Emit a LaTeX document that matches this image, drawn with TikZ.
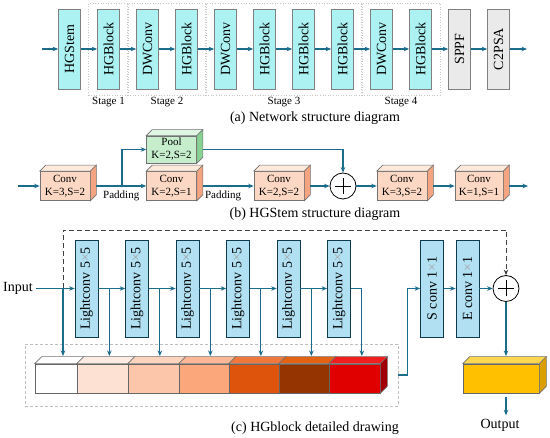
\documentclass[tikz,border=0pt]{standalone}
\usepackage{fontspec}
\setmainfont{Liberation Serif}
\usetikzlibrary{arrows.meta,backgrounds,fit}

\definecolor{linkblue}{RGB}{28,108,140}
\definecolor{stagecyan}{RGB}{172,242,242}
\definecolor{headgray}{RGB}{234,234,234}
\definecolor{lightblue}{RGB}{176,224,242}
\definecolor{convfront}{RGB}{252,216,196}
\definecolor{convtop}{RGB}{253,232,220}
\definecolor{convside}{RGB}{244,164,128}
\definecolor{poolfront}{RGB}{198,238,204}
\definecolor{pooltop}{RGB}{222,246,226}
\definecolor{poolside}{RGB}{136,210,148}
\definecolor{outfront}{RGB}{255,192,0}
\definecolor{outtop}{RGB}{255,214,80}
\definecolor{outside}{RGB}{218,158,0}
\definecolor{segf1}{RGB}{255,255,255}
\definecolor{segt1}{RGB}{255,255,255}
\definecolor{segf2}{RGB}{253,226,212}
\definecolor{segt2}{RGB}{254,236,226}
\definecolor{segf3}{RGB}{252,198,170}
\definecolor{segt3}{RGB}{252,212,190}
\definecolor{segf4}{RGB}{252,166,124}
\definecolor{segt4}{RGB}{252,184,150}
\definecolor{segf5}{RGB}{222,84,12}
\definecolor{segt5}{RGB}{240,120,60}
\definecolor{segf6}{RGB}{150,52,0}
\definecolor{segt6}{RGB}{228,98,20}
\definecolor{segf7}{RGB}{224,0,0}
\definecolor{segt7}{RGB}{240,30,30}
\definecolor{segs7}{RGB}{160,0,0}

\begin{document}
\begin{tikzpicture}[x=1pt,y=-1pt,font=\fontsize{14}{17}\selectfont,>={Stealth[length=5.5pt,width=4.5pt]},
  link/.style={draw=linkblue,line width=1.1pt},
  small/.style={font=\fontsize{11}{13}\selectfont},
  vbox/.style={rectangle,draw=black!50,line width=0.7pt,minimum width=22pt,minimum height=80pt,inner sep=0pt},
  stembox/.style={vbox,fill=stagecyan},
  headbox/.style={vbox,fill=headgray},
  lcbox/.style={vbox,fill=lightblue,draw=black!45!linkblue,minimum width=23pt,minimum height=97pt},
  stageframe/.style={draw=black!22,dotted,line width=0.6pt,inner xsep=8.5pt,inner ysep=5.5pt},
  cuboid/.style={rectangle,draw=black!55,line width=0.6pt,fill=convfront,minimum width=50pt,minimum height=29pt,inner sep=0pt,align=center,small},
  seg/.style={rectangle,draw=black!60,line width=0.6pt,minimum height=29pt,inner sep=0pt},
  face/.style={draw=black!55,line width=0.6pt},
  addnode/.style={circle,draw=black,line width=0.8pt,fill=white,minimum size=26pt,inner sep=0pt,
    path picture={\draw[line width=0.8pt] ([xshift=-8pt]path picture bounding box.center) -- ([xshift=8pt]path picture bounding box.center)
      ([yshift=-8pt]path picture bounding box.center) -- ([yshift=8pt]path picture bounding box.center);}}]
\useasboundingbox (0,0) rectangle (550,438);

% (a) network
\foreach \t/\s [count=\i] in {HGStem/stembox,HGBlock/stembox,DWConv/stembox,HGBlock/stembox,DWConv/stembox,HGBlock/stembox,HGBlock/stembox,HGBlock/stembox,DWConv/stembox,HGBlock/stembox,SPPF/headbox,C2PSA/headbox}
  \node[\s] (a\i) at ({30.5+39*\i},49) {\rotatebox{90}{\t}};
\begin{scope}[on background layer]
\fill[white] (0,0) rectangle (550,438);
\node[stageframe,fit=(a2),label={[small,inner sep=2pt]below:Stage 1}] (st1) {};
\node[stageframe,fit=(a3)(a4),label={[small,inner sep=2pt]below:Stage 2}] (st2) {};
\node[stageframe,fit=(a5)(a8),label={[small,inner sep=2pt]below:Stage 3}] (st3) {};
\node[stageframe,fit=(a9)(a10),label={[small,inner sep=2pt]below:Stage 4}] (st4) {};
\end{scope}
\coordinate (ain) at (42,49);
\coordinate (aout) at (527,49);
\draw[link,->] (ain) -- (a1);
\foreach \i in {1,...,11}{\pgfmathtruncatemacro{\j}{\i+1}\draw[link,->] (a\i) -- (a\j);}
\draw[link,->] (a12) -- (aout);
\node (capa) at (315,118) {(a) Network structure diagram};

% (b) stem
\node[cuboid] (c1) at (65,186) {Conv\\K=3,S=2};
\node[cuboid,fill=poolfront,minimum height=27pt] (pl) at (171.5,149.5) {Pool\\K=2,S=2};
\node[cuboid] (c2) at (171.5,186) {Conv\\K=2,S=1};
\node[cuboid] (c3) at (279,186) {Conv\\K=2,S=2};
\node[addnode] (add1) at (343,186) {};
\node[cuboid] (c4) at (402,186) {Conv\\K=3,S=2};
\node[cuboid,minimum width=48pt] (c5) at (479,186) {Conv\\K=1,S=1};
\foreach \n/\tc/\sc in {c1/convtop/convside,pl/pooltop/poolside,c2/convtop/convside,c3/convtop/convside,c4/convtop/convside,c5/convtop/convside}{
  \filldraw[face,fill=\tc] (\n.north west) -- ++(6,-6) -- ([shift={(6,-6)}]\n.north east) -- (\n.north east) -- cycle;
  \filldraw[face,fill=\sc] (\n.north east) -- ++(6,-6) -- ([shift={(6,-6)}]\n.south east) -- (\n.south east) -- cycle;}
\coordinate (bin) at (18,186);
\coordinate (bout) at (528,186);
\coordinate (br) at (122,186);
\draw[link,->] (bin) -- (c1);
\draw[link,->] ([xshift=6pt]c1.east) -- node[small,below,inner sep=4pt]{Padding} (c2);
\draw[link,->] (br) |- (pl);
\draw[link,->] ([xshift=6pt]c2.east) -- node[small,below,inner sep=4pt,pos=0.4]{Padding} (c3);
\draw[link,->] ([xshift=6pt]c3.east) -- (add1);
\draw[link,->] ([xshift=6pt]pl.east) -| (add1);
\draw[link,->] (add1) -- (c4);
\draw[link,->] ([xshift=6pt]c4.east) -- (c5);
\draw[link,->] ([xshift=6pt]c5.east) -- (bout);
\node (capb) at (315,214) {(b) HGStem structure diagram};

% (c) hgblock
\node (inp) at (18,288.5) {Input};
\foreach \i in {1,...,6}
  \node[lcbox] (lc\i) at ({86.5+50.5*(\i-1)},288.5) {\rotatebox{90}{Lightconv 5{\color{black!35}×}5}};
\node[lcbox] (sc) at (432,288.5) {\rotatebox{90}{S conv 1{\color{black!35}×}1}};
\node[lcbox] (ec) at (467.5,288.5) {\rotatebox{90}{E conv 1{\color{black!35}×}1}};
\node[addnode] (add2) at (506,288.5) {};
\foreach \i/\x/\w in {1/56/42,2/102.5/51,3/153.5/51,4/204/50,5/254/50,6/304/50,7/354.5/51}{
  \node[seg,fill=segf\i,minimum width=\w pt] (seg\i) at (\x,378.5) {};
  \filldraw[face,fill=segt\i] (seg\i.north west) -- ++(7,-7) -- ([shift={(7,-7)}]seg\i.north east) -- (seg\i.north east) -- cycle;}
\filldraw[face,fill=segs7] (seg7.north east) -- ++(7,-7) -- ([shift={(7,-7)}]seg7.south east) -- (seg7.south east) -- cycle;
\node[seg,fill=outfront,minimum width=76pt] (out) at (501,378.5) {};
\filldraw[face,fill=outtop] (out.north west) -- ++(7,-7) -- ([shift={(7,-7)}]out.north east) -- (out.north east) -- cycle;
\filldraw[face,fill=outside] (out.north east) -- ++(7,-7) -- ([shift={(7,-7)}]out.south east) -- (out.south east) -- cycle;
\begin{scope}[on background layer]
\node[draw=black!25,densely dashed,line width=0.5pt,minimum width=373pt,minimum height=62pt,inner sep=0pt] (grp) at (211.5,375) {};
\end{scope}
\coordinate (stop) at (0,356);
\coordinate (dtop) at (0,230);
\coordinate (j0) at (63,288.5);
\draw[link,->] (inp) -- (lc1);
\draw[link,->] (j0) -- (j0 |- stop);
\draw[dash pattern=on 5pt off 3pt,line width=0.9pt,draw=black!75,->] (j0) -- (j0 |- dtop) -| (add2.north);
\foreach \i in {1,...,6}{
  \coordinate (j\i) at ([xshift=11pt]lc\i.east);
  \draw[link,->] (j\i) -- (j\i |- stop);}
\foreach \i in {1,...,5}{\pgfmathtruncatemacro{\j}{\i+1}\draw[link,->] (lc\i) -- (lc\j);}
\draw[link] (lc6.east) -- (j6);
\draw[link,->] (grp.east) -- ++(9,0) |- (sc.west);
\draw[link,->] (sc) -- (ec);
\draw[link,->] (ec) -- (add2);
\draw[link,->] (add2.south) -- (add2.south |- stop);
\node (otxt) at (500,425) {Output};
\draw[link,->] ([yshift=-4pt]out.south -| add2) -- (otxt.north -| add2);
\node (capc) at (315,428) {(c) HGblock detailed drawing};
\end{tikzpicture}
\end{document}
